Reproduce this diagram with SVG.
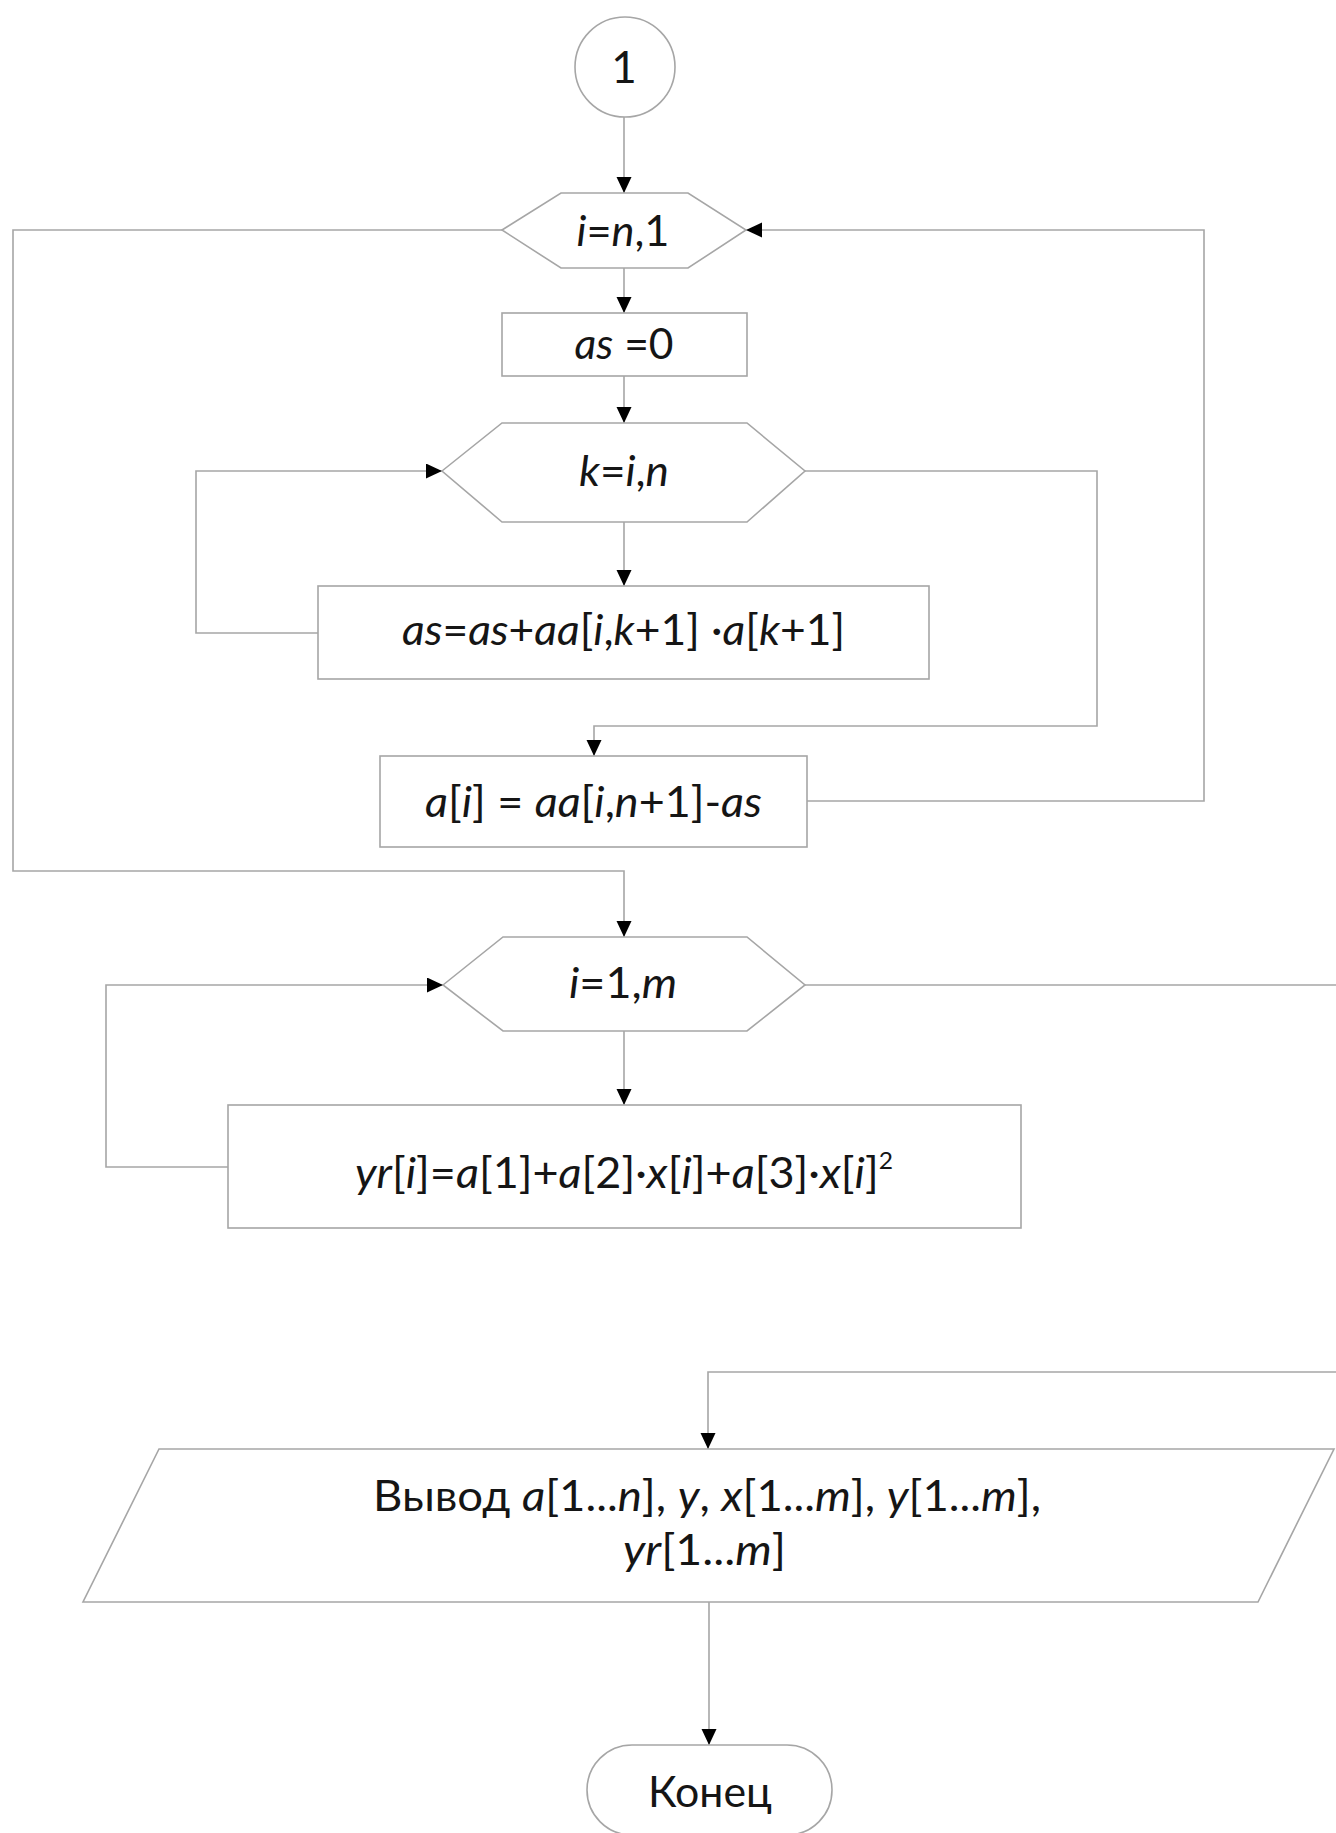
<svg xmlns="http://www.w3.org/2000/svg" width="1336" height="1833" viewBox="0 0 1336 1833">
<style>
.shape{fill:#ffffff;stroke:#a6a6a6;stroke-width:1.6}
.conn{fill:none;stroke:#a6a6a6;stroke-width:1.6}
.t{font-family:Lato,"Open Sans","Liberation Sans",sans-serif;font-size:42px;fill:#151515;text-anchor:middle}
.i{font-style:italic}
</style>
<defs>
<marker id="arr" markerUnits="userSpaceOnUse" markerWidth="17" markerHeight="16" refX="16" refY="7.5" orient="auto" viewBox="0 0 17 16">
<path d="M0,0 L16,7.5 L0,15 z" fill="#000"/>
</marker>
</defs>
<rect width="1336" height="1833" fill="#fff"/>
<g id="connectors">
<path class="conn" d="M624 117 V193" marker-end="url(#arr)"/>
<path class="conn" d="M624 268 V313" marker-end="url(#arr)"/>
<path class="conn" d="M624 376 V423" marker-end="url(#arr)"/>
<path class="conn" d="M624 522 V586" marker-end="url(#arr)"/>
<path class="conn" d="M318 633 H196 V471 H442" marker-end="url(#arr)"/>
<path class="conn" d="M805 471 H1097 V726 H594 V756" marker-end="url(#arr)"/>
<path class="conn" d="M807 801 H1204 V230 H746" marker-end="url(#arr)"/>
<path class="conn" d="M502 230 H13 V871 H624 V937" marker-end="url(#arr)"/>
<path class="conn" d="M624 1031 V1105" marker-end="url(#arr)"/>
<path class="conn" d="M228 1167 H106 V985 H443" marker-end="url(#arr)"/>
<path class="conn" d="M805 985 H1336"/>
<path class="conn" d="M1336 1372 H708 V1449" marker-end="url(#arr)"/>
<path class="conn" d="M709 1602 V1745" marker-end="url(#arr)"/>
</g>
<g id="n1">
<circle class="shape" cx="625" cy="67" r="50"/>
<text class="t" x="624" y="83" style="font-size:44px">1</text>
</g>
<g id="n2">
<polygon class="shape" points="502,230 561,193 688,193 746,230 688,268 561,268"/>
<text class="t" x="623" y="246" textLength="93" lengthAdjust="spacingAndGlyphs"><tspan class="i">i</tspan>=<tspan class="i">n</tspan>,1</text>
</g>
<g id="n3">
<rect class="shape" x="502" y="313" width="245" height="63"/>
<text class="t" x="624" y="359" textLength="99" lengthAdjust="spacingAndGlyphs"><tspan class="i">as</tspan> =0</text>
</g>
<g id="n4">
<polygon class="shape" points="442,471 502,423 747,423 805,471 747,522 502,522"/>
<text class="t" x="624" y="486" textLength="90" lengthAdjust="spacingAndGlyphs"><tspan class="i">k</tspan>=<tspan class="i">i</tspan>,<tspan class="i">n</tspan></text>
</g>
<g id="n5">
<rect class="shape" x="318" y="586" width="611" height="93"/>
<text class="t" x="623.5" y="645" textLength="443" lengthAdjust="spacingAndGlyphs"><tspan class="i">as</tspan>=<tspan class="i">as</tspan>+<tspan class="i">aa</tspan>[<tspan class="i">i</tspan>,<tspan class="i">k</tspan>+1] ·<tspan class="i">a</tspan>[<tspan class="i">k</tspan>+1]</text>
</g>
<g id="n6">
<rect class="shape" x="380" y="756" width="427" height="91"/>
<text class="t" x="593.5" y="817" textLength="337" lengthAdjust="spacingAndGlyphs"><tspan class="i">a</tspan>[<tspan class="i">i</tspan>] = <tspan class="i">aa</tspan>[<tspan class="i">i</tspan>,<tspan class="i">n</tspan>+1]-<tspan class="i">as</tspan></text>
</g>
<g id="n7">
<polygon class="shape" points="443,985 503,937 747,937 805,985 747,1031 503,1031"/>
<text class="t" x="623" y="998" textLength="108" lengthAdjust="spacingAndGlyphs"><tspan class="i">i</tspan>=1,<tspan class="i">m</tspan></text>
</g>
<g id="n8">
<rect class="shape" x="228" y="1105" width="793" height="123"/>
<text class="t" x="624" y="1188" textLength="538" lengthAdjust="spacingAndGlyphs"><tspan class="i">yr</tspan>[<tspan class="i">i</tspan>]=<tspan class="i">a</tspan>[1]+<tspan class="i">a</tspan>[2]·<tspan class="i">x</tspan>[<tspan class="i">i</tspan>]+<tspan class="i">a</tspan>[3]·<tspan class="i">x</tspan>[<tspan class="i">i</tspan>]<tspan style="font-size:23px" dy="-19">2</tspan></text>
</g>
<g id="n9">
<polygon class="shape" points="159,1449 1334,1449 1258,1602 83,1602"/>
<text class="t" x="707" y="1511" textLength="668" lengthAdjust="spacingAndGlyphs">Вывод <tspan class="i">a</tspan>[1...<tspan class="i">n</tspan>], <tspan class="i">y</tspan>, <tspan class="i">x</tspan>[1...<tspan class="i">m</tspan>], <tspan class="i">y</tspan>[1...<tspan class="i">m</tspan>],</text>
<text class="t" x="704.5" y="1565" textLength="163" lengthAdjust="spacingAndGlyphs"><tspan class="i">yr</tspan>[1...<tspan class="i">m</tspan>]</text>
</g>
<g id="n10">
<rect class="shape" x="587" y="1745" width="245" height="90" rx="45" ry="45"/>
<text class="t" x="710" y="1807" style="font-size:43px" textLength="124" lengthAdjust="spacingAndGlyphs">Конец</text>
</g>
</svg>
